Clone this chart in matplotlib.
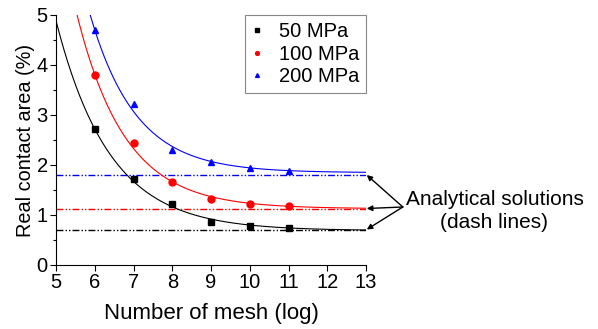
import numpy as np
import matplotlib
matplotlib.use("Agg")
import matplotlib.pyplot as plt

plt.rcParams['font.family'] = ['Liberation Sans', 'DejaVu Sans']

mesh = [6, 7, 8, 9, 10, 11]
series_labels = ["50 MPa", "100 MPa", "200 MPa"]
area_50 = [2.73, 1.72, 1.22, 0.87, 0.79, 0.75]
area_100 = [3.81, 2.44, 1.67, 1.33, 1.23, 1.18]
area_200 = [4.69, 3.23, 2.30, 2.07, 1.94, 1.89]
analytical = [0.71, 1.13, 1.80]
colors = ["black", "red", "blue"]
markers = ["s", "o", "^"]
x_ticks = [5, 6, 7, 8, 9, 10, 11, 12, 13]
y_ticks = [0, 1, 2, 3, 4, 5]


def expdec_fit(x, y):
    """Least-squares fit y = y0 + A*exp(-x/t) (grid over y0)."""
    x = np.asarray(x, float)
    y = np.asarray(y, float)
    best = None
    for y0 in np.linspace(0, y.min() - 1e-3, 400):
        ly = np.log(y - y0)
        b, a = np.polyfit(x, ly, 1)
        pred = y0 + np.exp(a + b * x)
        err = np.sum((pred - y) ** 2)
        if best is None or err < best[0]:
            best = (err, y0, a, b)
    _, y0, a, b = best
    return lambda xx: y0 + np.exp(a + b * xx)


fig = plt.figure(figsize=(5.98, 3.29), dpi=100)
ax = fig.add_axes([56 / 598, 1 - 265 / 329, (366 - 56) / 598, 250 / 329])

xs = np.linspace(5, 13, 400)
for vals, c, m, lab, an in zip([area_50, area_100, area_200], colors, markers,
                                series_labels, analytical):
    f = expdec_fit(mesh, vals)
    ax.plot(xs, f(xs), color=c, lw=0.8, zorder=2)
    ax.plot(mesh, vals, linestyle='none', marker=m, color=c, markersize=5,
            label=lab, zorder=3)
    ax.plot([5, 13], [an, an], color=c, lw=1.0, dashes=[5, 1.5, 1, 1.5, 1, 1.5], zorder=1)

ax.set_xlim(5, 13)
ax.set_ylim(0, 5)
ax.set_xticks(x_ticks)
ax.set_yticks(y_ticks)
ax.set_yticks(np.arange(0.5, 5, 1), minor=True)
ax.spines['top'].set_visible(False)
ax.spines['right'].set_visible(False)
ax.tick_params(direction='out', length=4, width=0.8, labelsize=14.5, pad=2)
ax.tick_params(which='minor', direction='out', length=2.5, width=0.8)
ax.set_xlabel("Number of mesh (log)", fontsize=16, labelpad=8)
ax.set_ylabel("Real contact area (%)", fontsize=14.3, labelpad=1)

leg = ax.legend(loc='upper right', bbox_to_anchor=(1.0, 1.0), fontsize=14.5,
                markerscale=0.55, handletextpad=0.8, handlelength=0.5,
                borderpad=0.35, labelspacing=0.18, borderaxespad=0,
                fancybox=False, framealpha=1)
leg.get_frame().set_edgecolor('#888888')
leg.get_frame().set_linewidth(0.8)

tx, ty = 13.95, 1.16
for an in analytical:
    ax.annotate("", xy=(13.02, an), xytext=(tx, ty), xycoords='data',
                annotation_clip=False,
                arrowprops=dict(arrowstyle='-|>', color='black', lw=1.0,
                                mutation_scale=8, shrinkA=0, shrinkB=0))
ax.text(tx + 0.07, ty - 0.08, "Analytical solutions\n(dash lines)", fontsize=15,
        ha='left', va='center', multialignment='center', linespacing=1.3)

fig.savefig("out.png", dpi=100)
